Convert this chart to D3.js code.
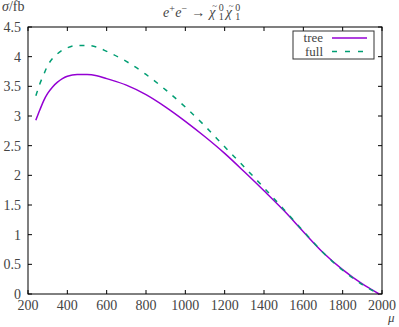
<!DOCTYPE html>
<html>
<head>
<meta charset="utf-8">
<script src="https://cdn.jsdelivr.net/npm/d3@7"></script>
<style>
  body { margin: 0; background: #fff; }
  text { font-family: "Liberation Serif", "DejaVu Serif", serif; fill: #444; }
</style>
</head>
<body>
<svg id="chart" width="399" height="327"></svg>
<script>
// mu values (x) and cross sections (fb)
const mu = [240, 260, 280, 300, 325, 350, 375, 400, 450, 500, 550, 600, 700, 800, 900,
            1000, 1100, 1200, 1300, 1400, 1500, 1600, 1700, 1800, 1900, 1950, 1985];
const tree = [2.93, 3.10, 3.26, 3.38, 3.49, 3.57, 3.63, 3.67, 3.70, 3.70, 3.68, 3.63, 3.52, 3.36, 3.15,
              2.91, 2.65, 2.37, 2.06, 1.74, 1.41, 1.05, 0.70, 0.41, 0.17, 0.07, 0.0];
const full = [3.34, 3.54, 3.70, 3.85, 3.97, 4.05, 4.11, 4.15, 4.19, 4.19, 4.16, 4.09, 3.92, 3.70, 3.44,
              3.15, 2.83, 2.48, 2.14, 1.79, 1.43, 1.06, 0.70, 0.40, 0.16, 0.06, 0.0];
const xTicks = [200, 400, 600, 800, 1000, 1200, 1400, 1600, 1800, 2000];
const yTicks = [0, 0.5, 1, 1.5, 2, 2.5, 3, 3.5, 4, 4.5];

const svg = d3.select('#chart');
const pLeft = 28, pRight = 382, pTop = 27, pBottom = 294;

const x = d3.scaleLinear().domain([200, 2000]).range([pLeft, pRight]);
const y = d3.scaleLinear().domain([0, 4.5]).range([pBottom, pTop]);

// ticks (inward, mirrored)
const tk = 4;
const tickG = svg.append('g').attr('stroke', '#000').attr('stroke-width', 1);
xTicks.forEach(v => {
  tickG.append('line').attr('x1', x(v)).attr('x2', x(v)).attr('y1', pBottom).attr('y2', pBottom - tk);
  tickG.append('line').attr('x1', x(v)).attr('x2', x(v)).attr('y1', pTop).attr('y2', pTop + tk);
});
yTicks.forEach(v => {
  tickG.append('line').attr('x1', pLeft).attr('x2', pLeft + tk).attr('y1', y(v)).attr('y2', y(v));
  tickG.append('line').attr('x1', pRight).attr('x2', pRight - tk).attr('y1', y(v)).attr('y2', y(v));
});

// tick labels
svg.append('g').selectAll('text').data(xTicks).join('text')
  .attr('x', d => x(d)).attr('y', pBottom + 16)
  .attr('text-anchor', 'middle').attr('font-size', 14)
  .text(d => d);
svg.append('g').selectAll('text').data(yTicks).join('text')
  .attr('x', pLeft - 7).attr('y', d => y(d) + 5)
  .attr('text-anchor', 'end').attr('font-size', 14)
  .text(d => d);

// curves
const line = d3.line().curve(d3.curveMonotoneX);
svg.append('path')
  .attr('d', line(mu.map((m, i) => [x(m), y(tree[i])])))
  .attr('fill', 'none').attr('stroke', '#9400d3').attr('stroke-width', 1.5);
svg.append('path')
  .attr('d', line(mu.map((m, i) => [x(m), y(full[i])])))
  .attr('fill', 'none').attr('stroke', '#009e73').attr('stroke-width', 1.5)
  .attr('stroke-dasharray', '5,7');

// frame
svg.append('rect').attr('x', pLeft).attr('y', pTop)
  .attr('width', pRight - pLeft).attr('height', pBottom - pTop)
  .attr('fill', 'none').attr('stroke', '#000').attr('stroke-width', 1);

// legend
const lg = svg.append('g');
lg.append('rect').attr('x', 293).attr('y', 31).attr('width', 81).attr('height', 28)
  .attr('fill', '#fff').attr('stroke', '#333').attr('stroke-width', 1);
lg.append('text').attr('x', 323).attr('y', 41.5).attr('text-anchor', 'end').attr('font-size', 13).text('tree');
lg.append('text').attr('x', 323).attr('y', 55.5).attr('text-anchor', 'end').attr('font-size', 13).text('full');
lg.append('line').attr('x1', 332).attr('x2', 367).attr('y1', 38).attr('y2', 38)
  .attr('stroke', '#9400d3').attr('stroke-width', 1.5);
lg.append('line').attr('x1', 332).attr('x2', 367).attr('y1', 51.5).attr('y2', 51.5)
  .attr('stroke', '#009e73').attr('stroke-width', 1.5).attr('stroke-dasharray', '5,8');

// axis labels
const yl = svg.append('text').attr('x', 2).attr('y', 11).attr('font-size', 14);
yl.append('tspan').attr('font-style', 'italic').text('σ');
yl.append('tspan').text('/fb');

svg.append('text').attr('x', 388).attr('y', 322).attr('font-size', 13)
  .attr('font-style', 'italic').text('μ');

// title: e+e- -> chi~0_1 chi~0_1, laid out piece by piece
const tg = svg.append('g');
const base = 16.5, fs = 14, sfs = 10;
let cx = 163;
function put(str, opt = {}) {
  const el = tg.append('text').attr('x', cx).attr('y', base + (opt.dy || 0))
    .attr('font-size', opt.size || fs)
    .attr('font-style', opt.italic ? 'italic' : 'normal').text(str);
  return el.node().getComputedTextLength();
}
cx += put('e', { italic: true });
cx += put('+', { size: sfs, dy: -5 }) + 0.5;
cx += put('e', { italic: true });
cx += put('−', { size: sfs, dy: -5 });
cx += 4;
cx += put('→');
cx += 4;
for (let k = 0; k < 2; k++) {
  const w = Math.max(put('χ', { italic: true }), 9);
  tg.append('text').attr('x', cx + w / 2 + 1).attr('y', base - 8).attr('font-size', 9)
    .attr('text-anchor', 'middle').text('~');
  cx += w + 0.5;
  const w1 = put('0', { size: sfs, dy: -5.5 });
  const w2 = put('1', { size: sfs, dy: 3 });
  cx += Math.max(w1, w2) + 2;
}
</script>
</body>
</html>
